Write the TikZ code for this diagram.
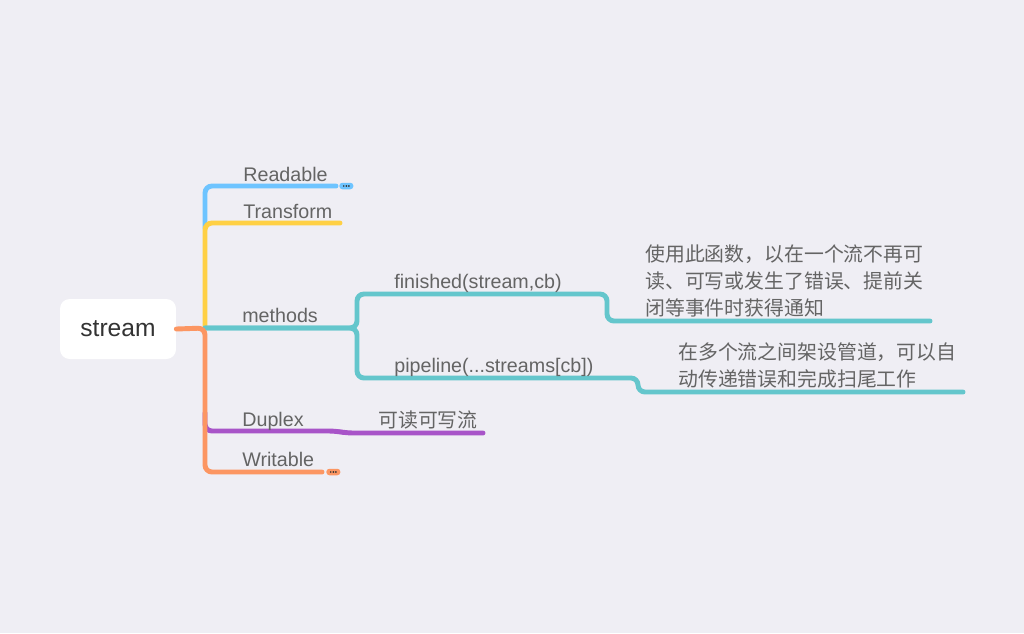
\documentclass[tikz,border=0pt]{standalone}
\usepackage{fontspec}
\setmainfont{Liberation Sans}
\newfontfamily\cjk{Noto Sans CJK SC}
\usetikzlibrary{calc, positioning}

\definecolor{bgcol}{RGB}{239,238,244}
\definecolor{txtcol}{RGB}{100,100,100}
\definecolor{rootcol}{RGB}{51,51,51}
\definecolor{readcol}{RGB}{110,196,255}
\definecolor{transcol}{RGB}{255,208,68}
\definecolor{methcol}{RGB}{100,198,204}
\definecolor{duplcol}{RGB}{168,84,200}
\definecolor{writcol}{RGB}{252,150,98}

\tikzset{
    branch/.style = {line width = 2.8pt, line cap = round, rounded corners = 4pt},
    lbl/.style    = {anchor = base west, inner sep = 0pt, text = txtcol,
                     font = \fontsize{11.2}{13}\selectfont},
    note/.style   = {anchor = north west, inner sep = 0pt, align = left, text = txtcol,
                     font = \fontsize{11.3}{15.6}\selectfont\cjk},
    pill/.style   = {rounded corners = 1.7pt, minimum width = 0.28cm,
                     minimum height = 0.13cm, inner sep = 0pt},
}

\begin{document}
\begin{tikzpicture}[x = 0.02cm, y = -0.02cm]

    % Determines the boundries
    \fill[bgcol] (0,0) rectangle (1024,633);
    \useasboundingbox (0,0) rectangle (1024,633);

    % Central topic
    \node (root) [fill = white, rounded corners = 5.5pt, minimum width = 2.32cm,
                  minimum height = 1.2cm, text = rootcol,
                  font = \fontsize{14}{16}\selectfont] at (118,329) {stream};

    % Branch points and line ends
    \coordinate (trunk)    at (205,328);
    \coordinate (brace)    at (357,328);
    \coordinate (readEnd)  at (336,186);
    \coordinate (transEnd) at (340,223);
    \coordinate (finBend)  at (607,294);
    \coordinate (finEnd)   at (930,321);
    \coordinate (pipeBend) at (638,378);
    \coordinate (pipeEnd)  at (963,392);
    \coordinate (duplStep) at (336,431);
    \coordinate (duplDrop) at (346,433);
    \coordinate (duplEnd)  at (483,433);
    \coordinate (writEnd)  at (322,472);

    % Branch lines
    \draw[branch, readcol]  ($(trunk)+(0,-100)$) |- (readEnd);
    \draw[branch, transcol] (trunk) |- (transEnd);
    \draw[branch, methcol]  (trunk) -- (brace) |- (finBend) |- (finEnd);
    \draw[branch, methcol]  (trunk) -- (brace) |- (pipeBend) |- (pipeEnd);
    \draw[branch, duplcol]  ($(trunk)+(0,85)$) |- (duplStep) -- (duplDrop) -- (duplEnd);
    \draw[branch, writcol]  (root.east) -- (trunk) |- (writEnd);

    % Labels on the branches
    \node (readable)  [lbl] at (243,181) {Readable};
    \node (transform) [lbl] at (243,218) {Transform};
    \node (methods)   [lbl] at (242,322) {methods};
    \node (finished)  [lbl] at (394,288) {finished(stream,cb)};
    \node (pipeline)  [lbl] at (394,372) {pipeline(...streams[cb])};
    \node (duplex)    [lbl] at (242,426) {Duplex};
    \node (writable)  [lbl] at (242,466) {Writable};

    % Notes
    \node (finNote)  [note] at (645,244)
        {使用此函数，以在一个流不再可\\读、可写或发生了错误、提前关\\闭等事件时获得通知};
    \node (pipeNote) [note] at (678,342)
        {在多个流之间架设管道，可以自\\动传递错误和完成扫尾工作};
    \node (duplNote) [note, anchor = south west] at (378,430) {可读可写流};

    % Collapsed markers
    \node (readMore) [pill, fill = readcol, right = 0.06cm of readEnd] {};
    \node (writMore) [pill, fill = writcol, right = 0.08cm of writEnd] {};
    \foreach \m in {readMore, writMore}{
        \foreach \d in {-2.6, 0, 2.6}{
            \fill[rootcol] ($(\m.center)+(\d,0)$) circle (0.55pt);
        }
    }

\end{tikzpicture}
\end{document}
